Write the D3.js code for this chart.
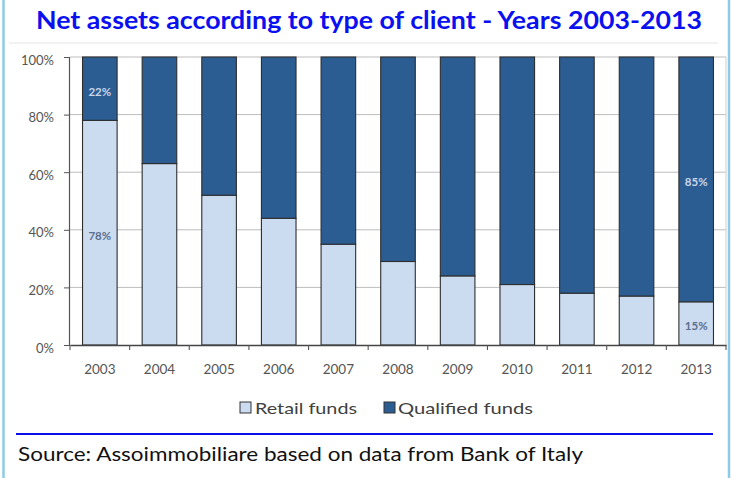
<!DOCTYPE html>
<html>
<head>
<meta charset="utf-8">
<script src="https://cdn.jsdelivr.net/npm/d3@7"></script>
<style>
  html, body { margin: 0; padding: 0; background: #fff; }
  svg { display: block; }
</style>
</head>
<body>
<svg id="chart" width="731" height="478"></svg>
<script>
// Net assets of real-estate funds by type of client, share of total
const years = ["2003","2004","2005","2006","2007","2008","2009","2010","2011","2012","2013"];
const retail    = [78, 63, 52, 44, 35, 29, 24, 21, 18, 17, 15];
const qualified = [22, 37, 48, 56, 65, 71, 76, 79, 82, 83, 85];
const seriesNames = ["Retail funds", "Qualified funds"];
const yTicks = [0, 20, 40, 60, 80, 100];
// Only the first and last year carry value labels
const labelledYears = ["2003", "2013"];

const colors = { retail: "#cbdcf1", qualified: "#2b5d92" };
const font = "Lato, 'Open Sans', 'DejaVu Sans', sans-serif";

const svg = d3.select("#chart");

// Outer frame
svg.append("line").attr("x1", 3.5).attr("x2", 3.5).attr("y1", 0).attr("y2", 478)
  .attr("stroke", "#8ecbe9").attr("stroke-width", 2.5);
svg.append("line").attr("x1", 729).attr("x2", 729).attr("y1", 0).attr("y2", 478)
  .attr("stroke", "#8ecbe9").attr("stroke-width", 2.5);

// Title
svg.append("text")
  .attr("x", 369).attr("y", 29)
  .attr("text-anchor", "middle")
  .attr("font-family", font).attr("font-weight", "bold").attr("font-size", 24.5)
  .attr("fill", "#0a10f0")
  .attr("textLength", 666).attr("lengthAdjust", "spacingAndGlyphs")
  .text("Net assets according to type of client - Years 2003-2013");

// faint chart box edge
svg.append("line").attr("x1", 9).attr("x2", 718).attr("y1", 43).attr("y2", 43)
  .attr("stroke", "#e4e4e4").attr("stroke-width", 1);

// Scales
const x = d3.scaleBand().domain(years).range([70, 726]).paddingInner(0.42).paddingOuter(0.21);
const y = d3.scaleLinear().domain([0, 100]).range([345, 57]);

// Gridlines
svg.append("g")
  .selectAll("line").data(yTicks.filter(d => d > 0)).join("line")
  .attr("x1", 70).attr("x2", 726)
  .attr("y1", d => y(d)).attr("y2", d => y(d))
  .attr("stroke", "#bdbdbd").attr("stroke-width", 1);
svg.append("line").attr("x1", 726).attr("x2", 726).attr("y1", y(100)).attr("y2", y(0))
  .attr("stroke", "#cfcfcf").attr("stroke-width", 1);

// Stacked bars
const rows = years.map((yr, i) => ({ year: yr, retail: retail[i], qualified: qualified[i] }));
const stack = d3.stack().keys(["retail", "qualified"]);
const layers = stack(rows);

svg.append("g").selectAll("g").data(layers).join("g")
  .attr("fill", d => colors[d.key])
  .selectAll("rect").data(d => d).join("rect")
  .attr("x", d => x(d.data.year))
  .attr("width", x.bandwidth())
  .attr("y", d => y(d[1]))
  .attr("height", d => y(d[0]) - y(d[1]))
  .attr("stroke", "#2e2e2e").attr("stroke-width", 1.1);

// Value labels
const labelData = [];
layers.forEach(layer => {
  layer.forEach(d => {
    if (labelledYears.includes(d.data.year)) {
      labelData.push({ key: layer.key, year: d.data.year, lo: d[0], hi: d[1], value: d.data[layer.key] });
    }
  });
});
svg.append("g").selectAll("text").data(labelData).join("text")
  .attr("x", d => x(d.year) + x.bandwidth() / 2)
  .attr("y", d => y((d.lo + d.hi) / 2) + 3)
  .attr("dy", "0.35em")
  .attr("text-anchor", "middle")
  .attr("font-family", font).attr("font-weight", "bold").attr("font-size", 11.5)
  .attr("fill", d => d.key === "qualified" ? "#c9d6ea" : "#5b6f8e")
  .text(d => d.value + "%");

// Y axis
const yAxis = d3.axisLeft(y).tickValues(yTicks).tickSize(5).tickPadding(10)
  .tickFormat(d => d + "%");
const gy = svg.append("g").attr("transform", "translate(69,0)").call(yAxis);
gy.select(".domain").attr("stroke", "#555").attr("stroke-width", 1.2);
gy.selectAll(".tick line").attr("stroke", "#555");
gy.selectAll(".tick text")
  .attr("font-family", font).attr("font-size", 13).attr("fill", "#555").attr("dy", "0.55em");

// X axis with ticks at category boundaries
const gx = svg.append("g").attr("transform", `translate(0,${y(0)})`)
  .call(d3.axisBottom(x).tickSize(0).tickPadding(19));
gx.select(".domain").attr("stroke", "#444").attr("stroke-width", 1.4);
gx.selectAll(".tick text")
  .attr("font-family", font).attr("font-size", 13.5).attr("fill", "#555");
const step = x.step();
svg.append("g").selectAll("line").data(d3.range(years.length + 1)).join("line")
  .attr("x1", i => 70 + i * step).attr("x2", i => 70 + i * step)
  .attr("y1", y(0)).attr("y2", y(0) + 5)
  .attr("stroke", "#555").attr("stroke-width", 1.1);

// Legend
const legend = [
  { name: seriesNames[0], color: colors.retail, sx: 240, tx: 255, w: 102 },
  { name: seriesNames[1], color: colors.qualified, sx: 384, tx: 398, w: 135 }
];
const lg = svg.append("g").selectAll("g").data(legend).join("g");
lg.append("rect")
  .attr("x", d => d.sx).attr("y", 402).attr("width", 11).attr("height", 11)
  .attr("fill", d => d.color).attr("stroke", "#333").attr("stroke-width", 1);
lg.append("text")
  .attr("x", d => d.tx).attr("y", 414)
  .attr("font-family", font).attr("font-size", 16).attr("fill", "#404040")
  .attr("textLength", d => d.w).attr("lengthAdjust", "spacingAndGlyphs")
  .text(d => d.name);

// Source note
svg.append("line").attr("x1", 16).attr("x2", 713).attr("y1", 434).attr("y2", 434)
  .attr("stroke", "#0a10e8").attr("stroke-width", 2.2);
svg.append("text")
  .attr("x", 18).attr("y", 461)
  .attr("font-family", font).attr("font-size", 19.5).attr("fill", "#111")
  .attr("textLength", 565).attr("lengthAdjust", "spacingAndGlyphs")
  .text("Source: Assoimmobiliare based on data from Bank of Italy");
</script>
</body>
</html>
